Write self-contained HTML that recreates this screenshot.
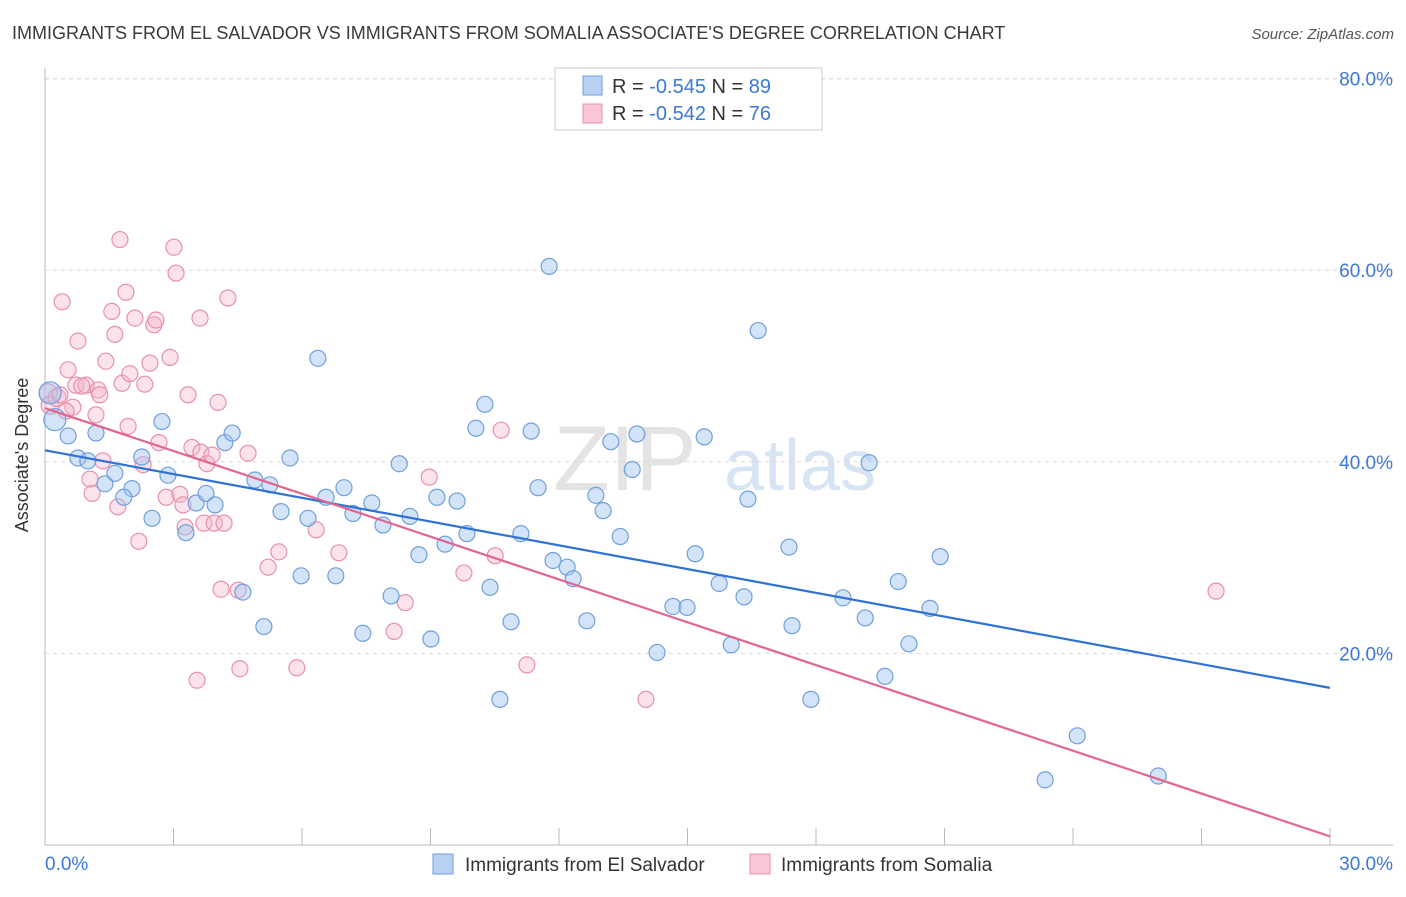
<!DOCTYPE html>
<html><head><meta charset="utf-8">
<style>
body{margin:0;background:#fff;font-family:"Liberation Sans",sans-serif;}
svg text{font-family:"Liberation Sans",sans-serif;}
</style></head>
<body>
<svg id="chart" width="1406" height="892" viewBox="0 0 1406 892">
<text x="12" y="39" font-size="18" fill="#3a3a3a">IMMIGRANTS FROM EL SALVADOR VS IMMIGRANTS FROM SOMALIA ASSOCIATE'S DEGREE CORRELATION CHART</text>
<text x="1394" y="39" font-size="15" fill="#555" font-style="italic" text-anchor="end">Source: ZipAtlas.com</text>
<g>
<text x="625" y="490" font-size="92" fill="#e4e4e4" font-family="Liberation Serif,serif" text-anchor="middle">ZIP</text>
<text x="800" y="490" font-size="72" fill="#d6e4f4" text-anchor="middle">atlas</text>
</g>
<g id="grid"></g>
<g id="axes"></g>
<g id="pts"></g>
<g id="lines"></g>
<text x="28" y="455" font-size="18" fill="#333" text-anchor="middle" transform="rotate(-90 28 455)">Associate's Degree</text>
<g>
<rect x="555" y="68" width="267" height="62" fill="#fff" stroke="#ccc"/>
<rect x="583" y="76" width="19" height="19" fill="#b9d2f3" stroke="#6f9fdc"/>
<text x="612" y="93" font-size="20" fill="#333">R = <tspan fill="#3b78d8">-0.545</tspan>   N = <tspan fill="#3b78d8">89</tspan></text>
<rect x="583" y="104" width="19" height="19" fill="#f8c6d6" stroke="#e890ae"/>
<text x="612" y="120" font-size="20" fill="#333">R = <tspan fill="#3b78d8">-0.542</tspan>   N = <tspan fill="#3b78d8">76</tspan></text>
</g>
<g>
<rect x="433" y="854" width="20" height="20" fill="#b9d2f3" stroke="#6f9fdc"/>
<text x="465" y="871" font-size="19" fill="#333">Immigrants from El Salvador</text>
<rect x="750" y="854" width="20" height="20" fill="#f8c6d6" stroke="#e890ae"/>
<text x="781" y="871" font-size="19" fill="#333">Immigrants from Somalia</text>
</g>
</svg>
<script>
const blueX=[0.12,0.23,0.54,1.19,0.77,1.00,1.40,1.63,2.03,1.84,2.50,2.26,2.73,2.87,3.29,3.53,3.76,3.97,4.20,4.37,4.62,4.90,5.11,5.25,5.51,5.72,5.98,6.14,6.37,6.56,6.79,6.98,7.19,7.42,7.63,7.89,8.08,8.27,8.52,8.73,9.01,9.15,9.34,9.62,9.85,10.06,10.27,10.39,10.62,10.88,11.11,11.35,11.51,11.77,11.86,12.19,12.33,12.65,12.86,13.03,13.21,13.43,13.71,13.82,14.29,14.66,14.99,15.18,15.39,15.74,16.02,16.32,16.41,16.65,17.37,17.44,17.88,18.63,19.15,19.24,19.61,19.92,20.17,20.66,20.90,23.35,24.10,25.99];
const blueY=[47.2,44.4,42.7,43.0,40.4,40.1,37.7,38.8,37.2,36.3,34.1,40.5,44.2,38.6,32.6,35.7,36.7,35.5,42.0,43.0,26.4,38.1,22.8,37.6,34.8,40.4,28.1,34.1,50.8,36.3,28.1,37.3,34.6,22.1,35.7,33.4,26.0,39.8,34.3,30.3,21.5,36.3,31.4,35.9,32.5,43.5,46.0,26.9,15.2,23.3,32.5,43.2,37.3,60.4,29.7,29.0,27.8,23.4,36.5,34.9,42.1,32.2,39.2,42.9,20.1,24.9,24.8,30.4,42.6,27.3,20.9,25.9,36.1,53.7,31.1,22.9,15.2,25.8,23.7,39.9,17.6,27.5,21.0,24.7,30.1,6.8,11.4,7.2];
const pinkX=[0.07,0.12,0.28,0.40,0.54,0.65,0.77,0.72,0.96,1.05,1.10,1.19,1.24,1.35,1.42,1.56,1.63,1.70,1.75,1.80,1.89,1.94,1.98,2.10,2.19,2.29,2.33,2.45,2.54,2.59,2.66,2.83,2.92,3.01,3.06,3.15,3.22,3.27,3.34,3.43,3.55,3.62,3.64,3.71,3.78,3.90,3.95,4.04,4.11,4.18,4.27,4.51,4.55,4.74,5.21,5.46,5.88,6.33,6.86,8.15,8.41,8.97,9.78,10.51,10.65,11.25,14.03,27.34,0.35,0.49,0.86,1.28];
const pinkY=[47.2,45.9,46.7,56.7,49.6,45.7,52.6,48.0,48.0,38.2,36.7,44.9,47.5,40.1,50.5,55.7,53.3,35.3,63.2,48.2,57.7,43.7,49.2,55.0,31.7,39.7,48.1,50.3,54.3,54.8,42.0,36.3,50.9,62.4,59.7,36.6,35.5,33.2,47.0,41.5,17.2,55.0,41.0,33.6,39.8,40.7,33.6,46.2,26.7,33.6,57.1,26.6,18.4,40.9,29.0,30.6,18.5,32.9,30.5,22.3,25.3,38.4,28.4,30.2,43.3,18.8,15.2,26.5,47.0,45.3,47.9,47.0];
const blueTrend=[41.2,16.4];
const pinkTrend=[45.6,0.9];
const yTicks=[20,40,60,80];
const yTickLabels=["20.0%","40.0%","60.0%","80.0%"];
const xTicks=[0,3,6,9,12,15,18,21,24,27,30];

const NS="http://www.w3.org/2000/svg";
const sx=v=>45+v*(1285/30);
const sy=v=>845-v*9.58;
function mk(tag,attrs,parent){const e=document.createElementNS(NS,tag);for(const k in attrs)e.setAttribute(k,attrs[k]);parent.appendChild(e);return e;}
const grid=document.getElementById('grid'),axes=document.getElementById('axes'),pts=document.getElementById('pts'),lines=document.getElementById('lines');
yTicks.forEach((t,i)=>{
  const l=mk('line',{x1:45,x2:1393,y1:sy(t),y2:sy(t),stroke:'#dcdcdc','stroke-dasharray':'4,4'},grid);
  
  
  const tx=mk('text',{x:1393,y:sy(t)+7,'font-size':19,fill:'#3b78d8','text-anchor':'end'},axes);
  tx.textContent=yTickLabels[i];
  
  
});
const tl=mk('line',{x1:45,x2:1393,y1:79,y2:79,stroke:'#dcdcdc','stroke-dasharray':'4,4'},grid);


const ya=mk('line',{x1:45,x2:45,y1:68,y2:845,stroke:'#bbb'},axes);


const xa=mk('line',{x1:45,x2:1393,y1:845,y2:845,stroke:'#bbb'},axes);


xTicks.forEach(t=>{
  const l=mk('line',{x1:sx(t),x2:sx(t),y1:828,y2:845,stroke:'#bbb'},axes);
  
  
});
const x0=mk('text',{x:45,y:870,'font-size':19,fill:'#3b78d8'},axes);x0.textContent='0.0%';


const x1=mk('text',{x:1393,y:870,'font-size':19,fill:'#3b78d8','text-anchor':'end'},axes);x1.textContent='30.0%';


pinkX.forEach((x,i)=>{
  const c=mk('circle',{cx:sx(x),cy:sy(pinkY[i]),r:i<3?9:8,fill:'rgba(246,182,204,0.4)',stroke:'#e890ae','stroke-width':1.2},pts);
  
  
});
blueX.forEach((x,i)=>{
  const c=mk('circle',{cx:sx(x),cy:sy(blueY[i]),r:i<2?11:8,fill:'rgba(160,195,240,0.45)',stroke:'#6f9fdc','stroke-width':1.2},pts);
  
  
});
const bl=mk('line',{x1:sx(0),y1:sy(blueTrend[0]),x2:sx(30),y2:sy(blueTrend[1]),stroke:'#2f72d6','stroke-width':2.2},lines);


const pl=mk('line',{x1:sx(0),y1:sy(pinkTrend[0]),x2:sx(30),y2:sy(pinkTrend[1]),stroke:'#e3648f','stroke-width':2.2},lines);


</script>
</body></html>
